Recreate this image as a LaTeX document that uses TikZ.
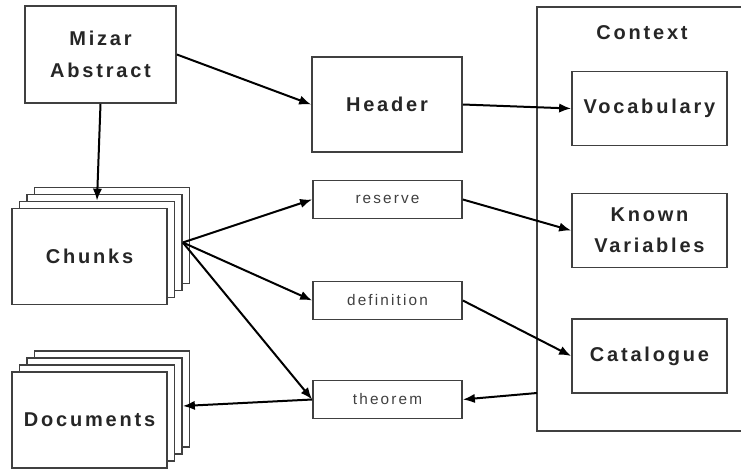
\documentclass[tikz,border=0pt]{standalone}
\usepackage{fontspec}
\setmainfont{Liberation Sans}
\newfontfamily\spaced[LetterSpace=14]{Liberation Sans}
\usetikzlibrary{arrows.meta}
\usetikzlibrary{positioning}
\tikzset{box/.style = {draw=black!75, line width=1.3pt, fill=white, inner sep=0, minimum width=116.25pt, minimum height=55.5pt, align=center, text=black!85, font=\spaced\bfseries\fontsize{15}{23}\selectfont}}
\tikzset{tag/.style = {box, minimum width=111.75pt, minimum height=28.5pt, text=black!75, font=\spaced\fontsize{11.5}{14}\selectfont}}
\tikzset{sheet/.style = {box, minimum height=72pt}}
\tikzset{link/.style = {-{Latex[length=9pt, width=7pt]}, line width=1.5pt}}

\begin{document}
\begin{tikzpicture}[x=0.75pt, y=-0.75pt]
          \useasboundingbox (0, 0) rectangle (741, 468);
          \clip (0, 0) rectangle (741, 468);

          \node [box, minimum width=158.25pt, minimum height=318pt] (context) at (642.5, 219) {};
          \node [font=\spaced\bfseries\fontsize{15}{17}\selectfont, text=black!85] (ctxtitle) at (642, 33) {Context};
          \node [box] (vocab) at (649.5, 108.5) {Vocabulary};
          \node [box] (known) at (649.5, 230.5) {Known\\Variables};
          \node [box] (catalogue) at (649.5, 356) {Catalogue};

          \node [box, minimum width=113.25pt, minimum height=72.75pt, font=\spaced\bfseries\fontsize{15}{24.5}\selectfont] (mizar) at (100.5, 54.5) {Mizar\\Abstract};
          \node [box, minimum width=112.5pt, minimum height=71.25pt] (header) at (387, 104.5) {Header};

          \node [tag] (reserve) at (387.5, 199.5) {reserve};
          \node [tag] (definition) at (387.5, 300.5) {definition};
          \node [tag] (theorem) at (387.5, 399.5) {theorem};

          \foreach \i in {3, 2, 1} {
            \node [sheet] (chunks\i) at ({89.5 + 7.5*\i}, {256.5 - 7*\i}) {};
            \node [sheet] (docs\i) at ({89.5 + 7.5*\i}, {420 - 7*\i}) {};
          }
          \node [sheet] (chunks) at (89.5, 256.5) {Chunks};
          \node [sheet] (docs) at (89.5, 420) {Documents};

          \coordinate (ctxout) at (537, 393);

          \draw [link] (mizar.east) -- (header.west);
          \draw [link] (mizar.south) -- (chunks1.north);
          \draw [link] (header.east) -- (vocab.west);
          \draw [link] (reserve.east) -- (known.west);
          \draw [link] (definition.east) -- (catalogue.west);
          \draw [link] (ctxout) -- (theorem.east);

          \draw [link] (chunks2.east) -- (reserve.west);
          \draw [link] (chunks2.east) -- (definition.west);
          \draw [link] (chunks2.east) -- (theorem.west);
          \draw [link] (theorem.west) -- (docs2.east);
        \end{tikzpicture}
\end{document}
